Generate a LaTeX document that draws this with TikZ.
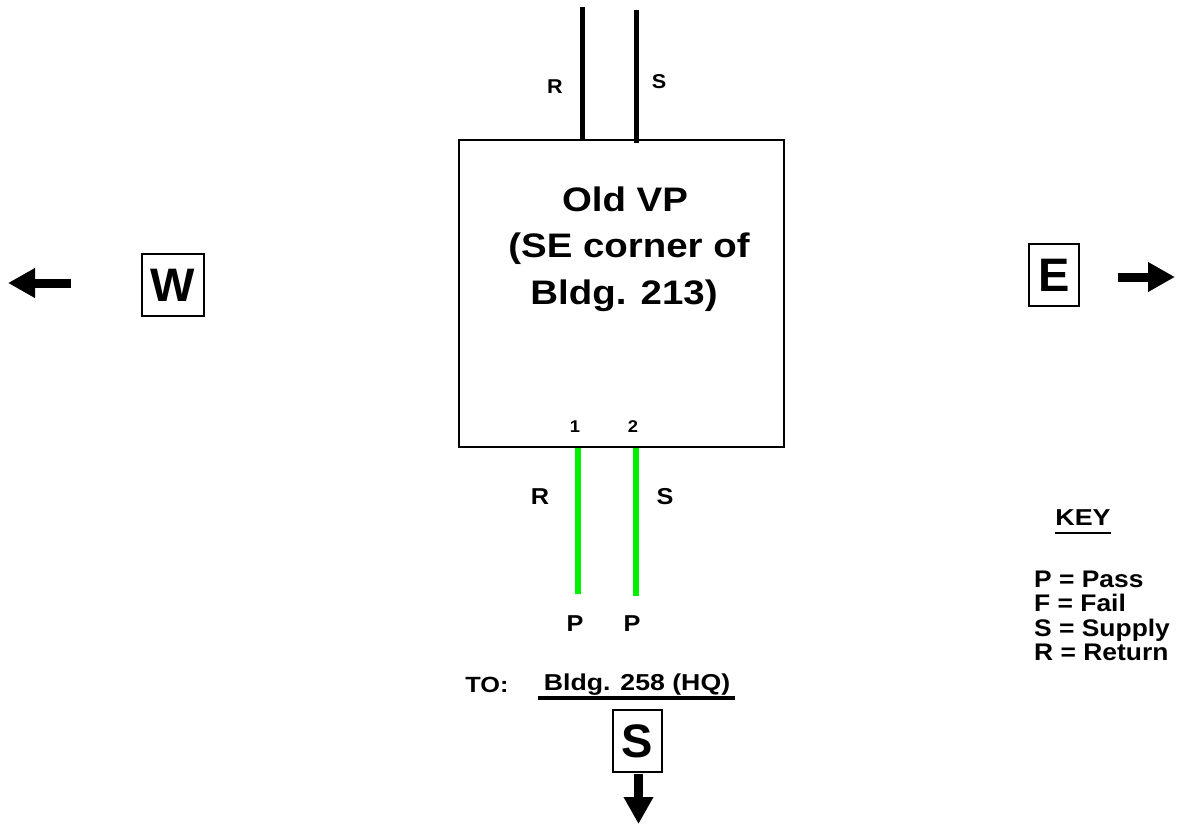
\documentclass[tikz,border=0pt]{standalone}
\usepackage{fontspec}
\usepackage{graphicx}
\setmainfont{Liberation Sans}
\usetikzlibrary{arrows.meta}
\newcommand\hstr[2]{\scalebox{#1}[1]{#2}}
\tikzset{
  lbl/.style={inner sep=0pt, anchor=base, font=\bfseries\fontsize{#1}{#1}\selectfont},
  dirbox/.style={draw, line width=1.2pt, minimum height=62pt, inner sep=0pt, font=\bfseries\fontsize{47}{47}\selectfont},
  bigarrow/.style={line width=9pt, -{Triangle[length=27pt,width=28pt]}},
  pipe/.style={line width=5pt},
  gpipe/.style={line width=6pt, draw=vgreen},
}
\definecolor{vgreen}{RGB}{0,240,0}
\begin{document}
\begin{tikzpicture}[x=1pt,y=-1pt]
\useasboundingbox (0,0) rectangle (1178,825);
% main box
\node[draw, line width=2.5pt, minimum width=325pt, minimum height=307pt, inner sep=0pt] (vp) at (621.5,293.5) {};
\node[lbl=34] (t1) at (625,211) {\hstr{1.13}{Old VP}};
\node[lbl=34] (t2) at (629,257) {\hstr{1.13}{(SE corner of}};
\node[lbl=34] (t3) at (624,304) {\hstr{1.13}{Bldg. 213)}};
% top pipes
\coordinate (rtop) at (582,7);
\coordinate (stop) at (636,10);
\draw[pipe] (rtop) -- ([yshift=-2pt]rtop |- vp.north);
\draw[pipe] (stop) -- ([yshift=-4pt]stop |- vp.north);
\node[lbl=20] (rt) at (555,93) {\hstr{1.08}{R}};
\node[lbl=20] (st) at (659,88) {\hstr{1.08}{S}};
% bottom pipes
\coordinate (rbot) at (578,594);
\coordinate (sbot) at (636,596);
\draw[gpipe] (rbot |- vp.south) -- (rbot);
\draw[gpipe] (sbot |- vp.south) -- (sbot);
\node[lbl=17] (n1) at (575,432) {\hstr{1.08}{1}};
\node[lbl=17] (n2) at (633,432) {\hstr{1.08}{2}};
\node[lbl=23] (rb) at (540,504) {\hstr{1.1}{R}};
\node[lbl=23] (sb) at (665,504) {\hstr{1.1}{S}};
\node[lbl=23] (p1) at (575,631) {\hstr{1.1}{P}};
\node[lbl=23] (p2) at (632,631) {\hstr{1.1}{P}};
% destination
\node[lbl=22] (to) at (487,692) {\hstr{1.15}{TO:}};
\node[lbl=23] (bldg) at (637,690) {\hstr{1.16}{Bldg. 258 (HQ)}};
\coordinate (ul1) at (538,698);
\coordinate (ul2) at (735,698);
\draw[line width=3.5pt] (ul1) -- (ul2);
% direction boxes
\node[dirbox, minimum width=62pt] (W) at (173,285) {W};
\node[dirbox, minimum width=50pt] (E) at (1054,275) {E};
\node[dirbox, minimum width=49pt] (S) at (637.5,741) {S};
\coordinate (wa1) at (71,283);
\coordinate (wa2) at (8,283);
\coordinate (ea1) at (1118,277);
\coordinate (ea2) at (1175,277);
\coordinate (sa2) at (638.5,824);
\draw[bigarrow] (wa1) -- (wa2);
\draw[bigarrow] (ea1) -- (ea2);
\draw[bigarrow] ([yshift=-1pt]sa2 |- S.south) -- (sa2);
% key
\node[lbl=23] (key) at (1083,525) {\hstr{1.17}{KEY}};
\draw[line width=2pt] ([yshift=-8pt]key.base west) -- ([yshift=-8pt]key.base east);
\node[lbl=24, anchor=base west] (k1) at (1034,587) {\hstr{1.1}{P = Pass}};
\node[lbl=24, anchor=base west] (k2) at (1034,611.5) {\hstr{1.1}{F = Fail}};
\node[lbl=24, anchor=base west] (k3) at (1034,636) {\hstr{1.1}{S = Supply}};
\node[lbl=24, anchor=base west] (k4) at (1034,660) {\hstr{1.1}{R = Return}};
\end{tikzpicture}
\end{document}
